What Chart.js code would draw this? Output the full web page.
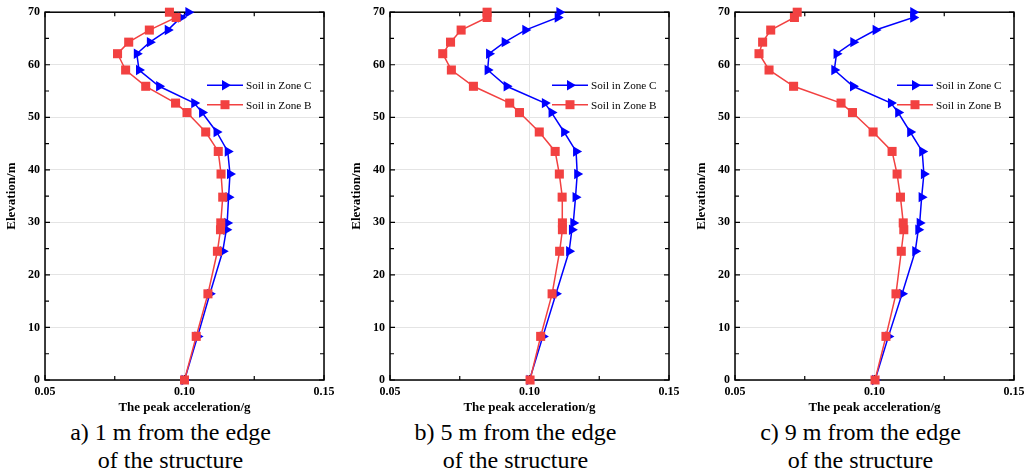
<!DOCTYPE html>
<html>
<head>
<meta charset="utf-8">
<script src="https://cdn.jsdelivr.net/npm/chart.js@4.4.1/dist/chart.umd.min.js"></script>
<style>
  body { margin: 0; background: #fff; width: 1034px; height: 474px; overflow: hidden; position: relative; }
  .panel { position: absolute; top: 0; width: 345px; height: 474px; }
  .box { position: absolute; left: 0; top: 0; width: 345px; height: 418px; }
  .cap { position: absolute; left: -2px; top: 418px; width: 345px; text-align: center;
         font: 24px "Liberation Serif", "Times New Roman", serif; line-height: 28px; color: #000; }
</style>
</head>
<body>
<div class="panel" style="left:0"><div class="box"><canvas id="chartA"></canvas></div>
  <div class="cap">a) 1 m from the edge<br>of the structure</div></div>
<div class="panel" style="left:345px"><div class="box"><canvas id="chartB"></canvas></div>
  <div class="cap">b) 5 m from the edge<br>of the structure</div></div>
<div class="panel" style="left:690px"><div class="box"><canvas id="chartC"></canvas></div>
  <div class="cap">c) 9 m from the edge<br>of the structure</div></div>

<script>
// elevation of the output points (m)
const elevation = [0, 8.3, 16.4, 24.5, 28.6, 29.9, 34.8, 39.2, 43.5, 47.2, 50.9, 52.7, 55.9, 59.0, 62.1, 64.3, 66.6, 69.0, 70];

// peak acceleration (g), read bottom to top
const zoneC_1m = [0.1000, 0.1047, 0.1091, 0.1137, 0.1150, 0.1153, 0.1158, 0.1163, 0.1155, 0.1115, 0.1063, 0.1035, 0.0909, 0.0837, 0.0829, 0.0876, 0.0940, 0.0987, 0.1014];
const zoneB_1m = [0.1000, 0.1042, 0.1084, 0.1118, 0.1129, 0.1130, 0.1137, 0.1131, 0.1121, 0.1076, 0.1009, 0.0968, 0.0861, 0.0789, 0.0760, 0.0800, 0.0874, 0.0970, 0.0946];

const zoneC_5m = [0.1000, 0.1048, 0.1095, 0.1142, 0.1152, 0.1157, 0.1165, 0.1171, 0.1167, 0.1124, 0.1079, 0.1055, 0.0918, 0.0850, 0.0855, 0.0911, 0.0985, 0.1101, 0.1107];
const zoneB_5m = [0.1002, 0.1040, 0.1081, 0.1108, 0.1118, 0.1118, 0.1117, 0.1107, 0.1092, 0.1035, 0.0964, 0.0929, 0.0799, 0.0720, 0.0689, 0.0717, 0.0755, 0.0848, 0.0848];

const zoneC_9m = [0.1002, 0.1050, 0.1099, 0.1146, 0.1157, 0.1162, 0.1169, 0.1177, 0.1171, 0.1128, 0.1085, 0.1059, 0.0923, 0.0856, 0.0864, 0.0924, 0.1004, 0.1139, 0.1139];
const zoneB_9m = [0.1002, 0.1041, 0.1077, 0.1096, 0.1105, 0.1103, 0.1093, 0.1081, 0.1063, 0.0995, 0.0921, 0.0880, 0.0710, 0.0622, 0.0586, 0.0599, 0.0628, 0.0713, 0.0723];

const xTicks = [0.05, 0.10, 0.15];
const yTicks = [0, 10, 20, 30, 40, 50, 60, 70];
const seriesNames = ['Soil in Zone C', 'Soil in Zone B'];

const BLUE = '#0000ff';
const RED = '#f24141';
const tickFont = { family: 'Liberation Serif', size: 12, weight: 'bold' };
const titleFont = { family: 'Liberation Serif', size: 13, weight: 'bold' };

function pts(xs) {
  return xs.map((v, i) => ({ x: v, y: elevation[i] }));
}

function isMajorX(v) { return Math.round(v * 1000) % 50 === 0; }
function isMajorY(v) { return Math.round(v) % 10 === 0; }

function marker(ctx, style, x, y, color) {
  ctx.fillStyle = color;
  ctx.beginPath();
  if (style === 'triangle') {
    ctx.moveTo(x + 6, y);
    ctx.lineTo(x - 3, y - 5.2);
    ctx.lineTo(x - 3, y + 5.2);
  } else {
    ctx.rect(x - 4.5, y - 4.5, 9, 9);
  }
  ctx.closePath();
  ctx.fill();
}

// frame with inward ticks, plus a line+marker legend inside the plot
const framePlugin = {
  id: 'frame',
  beforeDatasetsDraw(chart) {
    const { ctx, chartArea: a, scales } = chart;
    ctx.save();
    ctx.strokeStyle = '#000';
    ctx.lineWidth = 1.5;
    ctx.strokeRect(a.left, a.top, a.right - a.left, a.bottom - a.top);
    ctx.lineWidth = 1.2;
    ctx.beginPath();
    scales.y.ticks.forEach(t => {
      const py = scales.y.getPixelForValue(t.value);
      const len = isMajorY(t.value) ? 5 : 4;
      ctx.moveTo(a.left, py); ctx.lineTo(a.left + len, py);
      ctx.moveTo(a.right, py); ctx.lineTo(a.right - len, py);
    });
    scales.x.ticks.forEach(t => {
      const px = scales.x.getPixelForValue(t.value);
      const len = isMajorX(t.value) ? 5 : 4;
      ctx.moveTo(px, a.bottom); ctx.lineTo(px, a.bottom - len);
      ctx.moveTo(px, a.top); ctx.lineTo(px, a.top + len);
    });
    ctx.stroke();
    ctx.restore();
  },
  afterDatasetsDraw(chart) {
    const { ctx, chartArea: a } = chart;
    const x0 = a.right - 117;
    const items = [
      { name: seriesNames[0], color: BLUE, style: 'triangle', y: a.top + 73 },
      { name: seriesNames[1], color: RED, style: 'rect', y: a.top + 92.5 }
    ];
    ctx.save();
    items.forEach(it => {
      ctx.strokeStyle = it.color;
      ctx.lineWidth = 1.5;
      ctx.beginPath();
      ctx.moveTo(x0, it.y); ctx.lineTo(x0 + 36, it.y);
      ctx.stroke();
      marker(ctx, it.style, x0 + 18, it.y, it.color);
      ctx.fillStyle = '#000';
      ctx.font = '11.2px "Liberation Serif"';
      ctx.textBaseline = 'middle';
      ctx.fillText(it.name, x0 + 39, it.y + 1);
    });
    ctx.restore();
  }
};

function makeChart(id, cData, bData, topPad) {
  new Chart(document.getElementById(id), {
    type: 'scatter',
    data: {
      datasets: [
        {
          label: seriesNames[0], data: pts(cData), showLine: true, order: 1, clip: false,
          borderColor: BLUE, backgroundColor: BLUE, borderWidth: 1.5,
          pointStyle: 'triangle', pointRotation: 90, pointRadius: 6, pointBorderWidth: 0
        },
        {
          label: seriesNames[1], data: pts(bData), showLine: true, order: 0, clip: false,
          borderColor: RED, backgroundColor: RED, borderWidth: 1.5,
          pointStyle: 'rect', pointRadius: 6.4, pointBorderWidth: 0
        }
      ]
    },
    options: {
      responsive: true,
      maintainAspectRatio: false,
      animation: false,
      layout: { padding: { top: topPad, right: 21, left: 0, bottom: 0 } },
      plugins: { legend: { display: false }, tooltip: { enabled: false } },
      scales: {
        x: {
          type: 'linear', min: xTicks[0], max: xTicks[xTicks.length - 1],
          ticks: {
            stepSize: 0.025, padding: 5, color: '#000', font: tickFont, maxRotation: 0,
            callback: v => isMajorX(v) ? v.toFixed(2) : ''
          },
          grid: {
            drawTicks: false,
            color: ctx => isMajorX(ctx.tick.value) ? '#e4e4e4' : 'rgba(0,0,0,0)'
          },
          border: { display: false },
          title: { display: true, text: 'The peak acceleration/g', color: '#000', font: titleFont, padding: { top: 0, bottom: 3 } },
          afterFit: s => { s.height = 38; }
        },
        y: {
          type: 'linear', min: yTicks[0], max: yTicks[yTicks.length - 1],
          ticks: {
            stepSize: 5, padding: 5, color: '#000', font: tickFont,
            callback: v => isMajorY(v) ? v : ''
          },
          grid: {
            drawTicks: false,
            color: ctx => isMajorY(ctx.tick.value) ? '#e4e4e4' : 'rgba(0,0,0,0)'
          },
          border: { display: false },
          title: { display: true, text: 'Elevation/m', color: '#000', font: titleFont, padding: { top: 4, bottom: 0 } },
          afterFit: s => { s.width = 45; }
        }
      }
    },
    plugins: [framePlugin]
  });
}

makeChart('chartA', zoneC_1m, zoneB_1m, 10);
makeChart('chartB', zoneC_5m, zoneB_5m, 6);
makeChart('chartC', zoneC_9m, zoneB_9m, 6);
</script>
</body>
</html>
